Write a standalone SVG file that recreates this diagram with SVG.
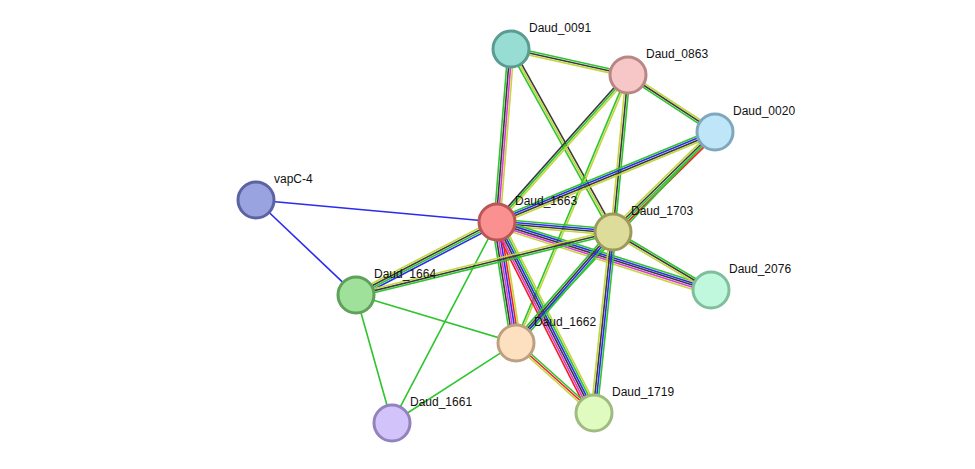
<svg xmlns="http://www.w3.org/2000/svg" width="975" height="469" viewBox="0 0 975 469">
<style>
line{stroke-width:1.6;fill:none}
.g{stroke:#2ec52e}.k{stroke:#3a3a3a}.y{stroke:#c3d63a}.b{stroke:#2b2bf0}.m{stroke:#d93ad9}.r{stroke:#f02020}
circle{stroke-width:3}
text{font-family:"Liberation Sans",Arial,sans-serif;font-size:12px;fill:#111}
</style>
<rect width="975" height="469" fill="#fff"/>
<g id="edges">
<g transform="translate(511,49) rotate(12.5)"><line class="g" x2="119.9" y1="-2" y2="-2"/><line class="k" x2="119.9"/><line class="y" x2="119.9" y1="2" y2="2"/></g>
<g transform="translate(511,49) rotate(94.6)"><line class="y" x2="173.6" y1="-3" y2="-3"/><line class="m" x2="173.6" y1="-1" y2="-1"/><line class="k" x2="173.6" y1="1" y2="1"/><line class="g" x2="173.6" y1="3" y2="3"/></g>
<g transform="translate(511,49) rotate(60.9)"><line class="k" x2="209.5" y1="-2" y2="-2"/><line class="y" x2="209.5"/><line class="g" x2="209.5" y1="2" y2="2"/></g>
<g transform="translate(628,75) rotate(33.2)"><line class="y" x2="104" y1="-2" y2="-2"/><line class="k" x2="104"/><line class="g" x2="104" y1="2" y2="2"/></g>
<g transform="translate(628,75) rotate(131.7)"><line class="y" x2="196.9" y1="-2" y2="-2"/><line class="g" x2="196.9"/><line class="k" x2="196.9" y1="2" y2="2"/></g>
<g transform="translate(628,75) rotate(95.5)"><line class="g" x2="157.7" y1="-2" y2="-2"/><line class="k" x2="157.7"/><line class="y" x2="157.7" y1="2" y2="2"/></g>
<g transform="translate(628,75) rotate(112.7)"><line class="y" x2="290.5" y1="-1" y2="-1"/><line class="g" x2="290.5" y1="1" y2="1"/></g>
<g transform="translate(715,132) rotate(157.6)"><line class="y" x2="235.8" y1="-3" y2="-3"/><line class="k" x2="235.8" y1="-1" y2="-1"/><line class="b" x2="235.8" y1="1" y2="1"/><line class="g" x2="235.8" y1="3" y2="3"/></g>
<g transform="translate(715,132) rotate(135.6)"><line class="r" x2="142.8" y1="-3" y2="-3"/><line class="g" x2="142.8" y1="-1" y2="-1"/><line class="k" x2="142.8" y1="1" y2="1"/><line class="y" x2="142.8" y1="3" y2="3"/></g>
<g transform="translate(715,132) rotate(133.3)"><line class="g" x2="290"/></g>
<g transform="translate(256,200) rotate(5.2)"><line class="b" x2="242"/></g>
<g transform="translate(256,200) rotate(43.5)"><line class="b" x2="137.9"/></g>
<g transform="translate(497,222) rotate(4.9)"><line class="g" x2="116.4" y1="-3" y2="-3"/><line class="b" x2="116.4" y1="-1" y2="-1"/><line class="k" x2="116.4" y1="1" y2="1"/><line class="y" x2="116.4" y1="3" y2="3"/></g>
<g transform="translate(497,222) rotate(17.6)"><line class="g" x2="224.5" y1="-3" y2="-3"/><line class="b" x2="224.5" y1="-1" y2="-1"/><line class="k" x2="224.5" y1="1" y2="1"/><line class="m" x2="224.5" y1="3" y2="3"/><line class="y" x2="224.5" y1="5" y2="5"/></g>
<g transform="translate(497,222) rotate(152.6)"><line class="b" x2="158.8" y1="-3" y2="-3"/><line class="g" x2="158.8" y1="-1" y2="-1"/><line class="k" x2="158.8" y1="1" y2="1"/><line class="y" x2="158.8" y1="3" y2="3"/></g>
<g transform="translate(497,222) rotate(81.1)"><line class="y" x2="122.5" y1="-5" y2="-5"/><line class="r" x2="122.5" y1="-3" y2="-3"/><line class="b" x2="122.5" y1="-1" y2="-1"/><line class="m" x2="122.5" y1="1" y2="1"/><line class="k" x2="122.5" y1="3" y2="3"/><line class="g" x2="122.5" y1="5" y2="5"/></g>
<g transform="translate(497,222) rotate(63.1)"><line class="y" x2="214.2" y1="-5" y2="-5"/><line class="g" x2="214.2" y1="-3" y2="-3"/><line class="b" x2="214.2" y1="-1" y2="-1"/><line class="k" x2="214.2" y1="1" y2="1"/><line class="m" x2="214.2" y1="3" y2="3"/><line class="r" x2="214.2" y1="5" y2="5"/></g>
<g transform="translate(497,222) rotate(117.6)"><line class="g" x2="226.8"/></g>
<g transform="translate(613,232) rotate(30.6)"><line class="g" x2="113.9" y1="-2" y2="-2"/><line class="k" x2="113.9"/><line class="y" x2="113.9" y1="2" y2="2"/></g>
<g transform="translate(613,232) rotate(166.2)"><line class="g" x2="264.6" y1="-2" y2="-2"/><line class="k" x2="264.6"/><line class="y" x2="264.6" y1="2" y2="2"/></g>
<g transform="translate(613,232) rotate(131.1)"><line class="g" x2="147.4" y1="-3" y2="-3"/><line class="b" x2="147.4" y1="-1" y2="-1"/><line class="k" x2="147.4" y1="1" y2="1"/><line class="g" x2="147.4" y1="3" y2="3"/></g>
<g transform="translate(613,232) rotate(96)"><line class="g" x2="182" y1="-3" y2="-3"/><line class="b" x2="182" y1="-1" y2="-1"/><line class="k" x2="182" y1="1" y2="1"/><line class="y" x2="182" y1="3" y2="3"/></g>
<g transform="translate(356,295) rotate(16.7)"><line class="g" x2="167"/></g>
<g transform="translate(356,295) rotate(74.3)"><line class="g" x2="133"/></g>
<g transform="translate(516,343) rotate(147.2)"><line class="g" x2="147.6"/></g>
<g transform="translate(516,343) rotate(41.9)"><line class="g" x2="104.8" y1="-2" y2="-2"/><line class="r" x2="104.8"/><line class="y" x2="104.8" y1="2" y2="2"/></g>
</g>
<g id="Daud_0091"><circle cx="511" cy="49" r="18" fill="#97ddd3" stroke="#5a9b92"/><text x="529" y="32">Daud_0091</text></g>
<g id="Daud_0863"><circle cx="628" cy="75" r="18" fill="#f7c6c6" stroke="#b98686"/><text x="646" y="58">Daud_0863</text></g>
<g id="Daud_0020"><circle cx="715" cy="132" r="18" fill="#bfe5f8" stroke="#7fa7bd"/><text x="733" y="115">Daud_0020</text></g>
<g id="vapC-4"><circle cx="256" cy="200" r="18" fill="#98a3e0" stroke="#5b64a0"/><text x="274" y="183">vapC-4</text></g>
<g id="Daud_1663"><circle cx="497" cy="222" r="18" fill="#fb9090" stroke="#bb5656"/><text x="515" y="205">Daud_1663</text></g>
<g id="Daud_1703"><circle cx="613" cy="232" r="18" fill="#dedc9a" stroke="#9d9b5c"/><text x="631" y="215">Daud_1703</text></g>
<g id="Daud_2076"><circle cx="711" cy="290" r="18" fill="#bff8dc" stroke="#7fbf9d"/><text x="729" y="273">Daud_2076</text></g>
<g id="Daud_1664"><circle cx="356" cy="295" r="18" fill="#9fe09a" stroke="#5fa05a"/><text x="374" y="278">Daud_1664</text></g>
<g id="Daud_1662"><circle cx="516" cy="343" r="18" fill="#fde0c0" stroke="#bda080"/><text x="534" y="326">Daud_1662</text></g>
<g id="Daud_1719"><circle cx="594" cy="413" r="18" fill="#e0fbbf" stroke="#a0bb80"/><text x="612" y="396">Daud_1719</text></g>
<g id="Daud_1661"><circle cx="392" cy="423" r="18" fill="#d3c3fb" stroke="#9383bd"/><text x="410" y="406">Daud_1661</text></g>
</svg>
